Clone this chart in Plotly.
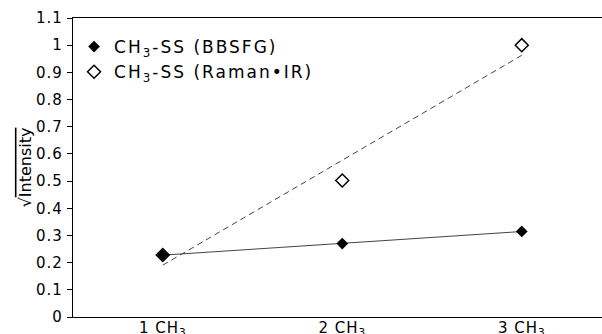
import numpy as np
import plotly.graph_objects as go

categories = ["1 CH<sub>3</sub>", "2 CH<sub>3</sub>", "3 CH<sub>3</sub>"]
bbsfg = [0.228, 0.270, 0.315]
raman_ir = [0.228, 0.502, 1.000]
y_ticks = [0, 0.1, 0.2, 0.3, 0.4, 0.5, 0.6, 0.7, 0.8, 0.9, 1, 1.1]
y_tick_labels = ["0", "0.1", "0.2", "0.3", "0.4", "0.5", "0.6", "0.7", "0.8", "0.9", "1", "1.1"]
series_names = ["CH<sub>3</sub>-SS (BBSFG)", "CH<sub>3</sub>-SS (Raman\u2022IR)"]

FONT = "DejaVu Sans, Verdana, sans-serif"
xpos = np.arange(1, len(categories) + 1)


def wide(t, sp):
    return f"<span style='letter-spacing:{sp}px'>{t}</span>"


fig = go.Figure()

# linear trendlines derived from the data
for vals, dash in [(raman_ir, "6px,4px"), (bbsfg, "solid")]:
    k, b = np.polyfit(xpos, vals, 1)
    fig.add_trace(go.Scatter(
        x=[xpos[0], xpos[-1]], y=[k * xpos[0] + b, k * xpos[-1] + b],
        mode="lines", line=dict(color="#444444", width=1, dash=dash),
        showlegend=False, hoverinfo="skip"))

fig.add_trace(go.Scatter(
    x=xpos, y=raman_ir, mode="markers", name=wide(series_names[1], 2),
    marker=dict(symbol="diamond-open", size=10, color="black", line=dict(width=1.5, color="black")),
    legendrank=2))
fig.add_trace(go.Scatter(
    x=xpos, y=bbsfg, mode="markers", name=wide(series_names[0], 2),
    marker=dict(symbol="diamond", size=9, color="black"),
    legendrank=1))

fig.update_layout(
    width=602, height=334,
    margin=dict(l=73, r=0, t=18, b=17, autoexpand=False),
    paper_bgcolor="white", plot_bgcolor="white",
    font=dict(family=FONT, size=15, color="black"),
    showlegend=True,
    legend=dict(x=0.002, y=0.963, xanchor="left", yanchor="top",
                bgcolor="rgba(0,0,0,0)", font=dict(size=17)),
    xaxis=dict(range=[0.5, 3.447], tickvals=list(xpos), ticktext=[wide(c, 1) for c in categories],
               showgrid=False, zeroline=False, showline=True, linecolor="black", linewidth=1.3,
               mirror=True, ticks="", tickfont=dict(size=15), ticklabelstandoff=-3,
               automargin=False),
    yaxis=dict(range=[0, 1.1], tickvals=y_ticks, ticktext=[wide(t, 1) for t in y_tick_labels],
               showgrid=False, zeroline=False, showline=True, linecolor="black", linewidth=1.3,
               ticks="outside", ticklen=5, tickcolor="black", tickfont=dict(size=15),
               ticklabelstandoff=1, automargin=False,
               title=dict(text="\u221a<span style='text-decoration:overline'>Intensity</span>",
                          font=dict(size=16), standoff=0)),
)

fig.write_html("out.html", config={"displayModeBar": False},
               post_script="document.body.style.margin='0';")
